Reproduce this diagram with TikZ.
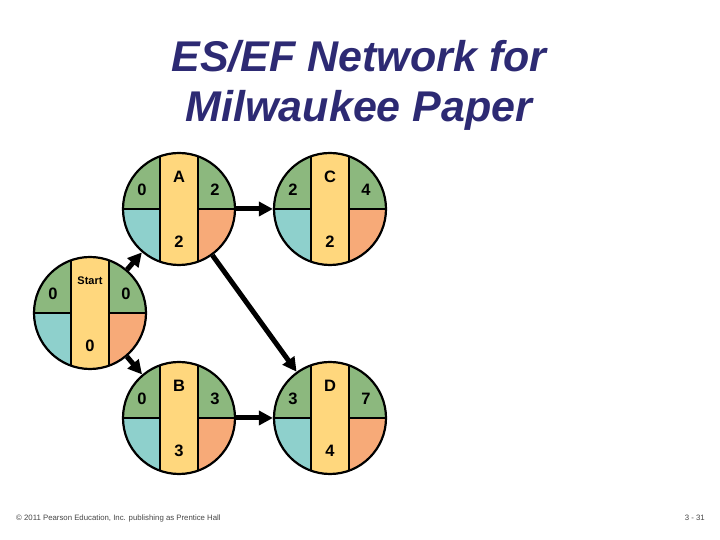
\documentclass[tikz,border=0pt]{standalone}
\usepackage{fontspec}
\setmainfont{Liberation Sans}
\usetikzlibrary{arrows.meta}
\definecolor{grn}{RGB}{140,184,126}
\definecolor{tealc}{RGB}{142,208,204}
\definecolor{yel}{RGB}{255,215,125}
\definecolor{orng}{RGB}{247,170,120}
\definecolor{navy}{RGB}{45,42,115}
\definecolor{foot}{RGB}{70,70,70}
\tikzset{
  pert/.style={circle, minimum size=112pt, inner sep=0pt, line width=2.2pt, draw=black,
    path picture={
      \begin{scope}[shift={(path picture bounding box.center)}]
        \fill[grn] (-60,0) rectangle (60,60);
        \fill[tealc] (-60,-60) rectangle (0,0);
        \fill[orng] (0,-60) rectangle (60,0);
        \fill[yel] (-19,-60) rectangle (19,60);
        \draw[line width=2.2pt] (-19,-60) -- (-19,60) (19,-60) -- (19,60)
          (-60,0) -- (-19,0) (19,0) -- (60,0);
      \end{scope}
    }},
  num/.style={font=\fontsize{16.5}{16.5}\selectfont\bfseries, inner sep=0pt},
  conn/.style={line width=5pt, -{Triangle[length=14pt,width=14pt]}},
  ttl/.style={font=\fontsize{43}{50}\selectfont\bfseries\itshape, text=navy, anchor=base},
  ftr/.style={font=\fontsize{7.8}{9}\selectfont, text=foot, inner sep=0pt},
}
\newcommand\pertN[8]{%
  \node[pert] (#1) at (#2,#3) {};
  \node[num,#8] (#1-name) at ([shift={(0,32)}]#1.center) {#4};
  \node[num] (#1-es) at ([shift={(-37,19)}]#1.center) {#5};
  \node[num] (#1-ef) at ([shift={(36,19)}]#1.center) {#6};
  \node[num] (#1-dur) at ([shift={(0,-33)}]#1.center) {#7};
}
\begin{document}
\begin{tikzpicture}[x=1pt,y=1pt]
\useasboundingbox (0,0) rectangle (720,540);
\node[ttl] (t1) at (359,468) {ES/EF Network for};
\node[ttl] (t2) at (359,418) {Milwaukee Paper};
\pertN{S}{90}{227}{Start}{0}{0}{0}{font=\fontsize{11}{11}\selectfont\bfseries}
\pertN{A}{179}{331}{A}{0}{2}{2}{}
\pertN{C}{330}{331}{C}{2}{4}{2}{}
\pertN{B}{179}{122}{B}{0}{3}{3}{}
\pertN{D}{330}{122}{D}{3}{7}{4}{}
\draw[conn] (S) -- (A);
\draw[conn] (S) -- (B);
\draw[conn] (A) -- (C);
\draw[conn] (A) -- (D);
\draw[conn] (B) -- (D);
\node[ftr, anchor=base west] (ft) at (16,19) {\textcopyright{} 2011 Pearson Education, Inc. publishing as Prentice Hall};
\node[ftr, anchor=base east] (pg) at (705,19) {3 - 31};
\end{tikzpicture}
\end{document}
